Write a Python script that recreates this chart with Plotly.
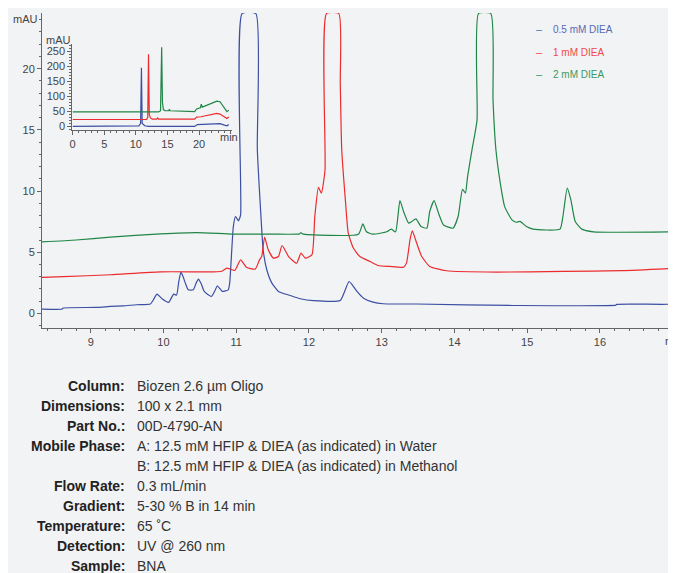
import plotly.graph_objects as go

# ---------------- data ----------------
series_names = ["0.5 mM DIEA", "1 mM DIEA", "2 mM DIEA"]

blue_t = [8.33, 8.61, 8.62, 9.08, 9.27, 9.45, 9.63, 9.82, 9.86, 9.91, 9.98, 10.07, 10.14, 10.18,
          10.21, 10.24, 10.27, 10.30, 10.34, 10.41, 10.45, 10.48, 10.52, 10.56, 10.66, 10.71, 10.74,
          10.78, 10.81, 10.89, 10.91, 10.96, 10.99, 11.03, 11.06, 11.08, 11.27, 11.29, 11.34, 11.37,
          11.42, 11.49, 11.58, 11.74, 11.88, 12.06, 12.43, 12.49, 12.55, 12.60, 12.66, 12.75, 12.88,
          13.02, 13.48, 14.81, 16.22, 16.23, 16.98, 17.0, 17.045]
blue_v = [0.36, 0.36, 0.44, 0.49, 0.57, 0.62, 0.71, 0.77, 1.1, 1.58, 1.2, 0.9, 1.58, 1.5,
          2.6, 3.38, 3.0, 2.48, 1.93, 1.93, 2.5, 2.8, 2.4, 1.8, 1.39, 1.9, 2.26,
          2.0, 1.8, 1.93, 2.48, 7.1, 7.92, 7.57, 8.06, 24.5, 24.5, 13.4, 7.92, 5.2,
          3.57, 2.48, 1.8, 1.47, 1.2, 1.04, 1.06, 1.8, 2.61, 2.3, 1.8, 1.25, 0.93,
          0.79, 0.77, 0.65, 0.68, 0.74, 0.76, 0.82, 0.82]

red_t = [8.33, 8.62, 9.27, 9.96, 10.69, 10.80, 10.87, 10.92, 10.98, 11.06, 11.14, 11.26, 11.32,
         11.35, 11.39, 11.44, 11.51, 11.58, 11.63, 11.72, 11.83, 11.89, 11.95, 12.04, 12.08, 12.13,
         12.17, 12.22, 12.24, 12.41, 12.43, 12.45, 12.50, 12.54, 12.61, 12.70, 12.84, 12.95, 13.11,
         13.30, 13.34, 13.39, 13.42, 13.48, 13.55, 13.66, 13.89, 14.58, 15.5, 16.3, 17.045]
red_v = [2.94, 3.0, 3.16, 3.4, 3.4, 3.45, 3.7, 3.62, 3.51, 4.38, 3.78, 3.62, 4.38,
         4.65, 6.24, 5.2, 4.52, 4.65, 5.55, 4.65, 4.11, 4.93, 4.52, 4.79, 7.92, 10.3,
         9.83, 11.7, 24.5, 24.5, 18.8, 13.4, 9.28, 6.56, 5.34, 4.65, 4.24, 3.92, 3.84,
         3.78, 4.11, 6.07, 6.75, 5.75, 4.65, 3.84, 3.49, 3.38, 3.43, 3.5, 3.7]

green_t = [8.33, 8.8, 9.27, 9.96, 10.46, 10.96, 11.5, 11.87, 11.89, 11.91, 12.68, 12.74, 12.79,
           12.88, 13.07, 13.13, 13.19, 13.25, 13.30, 13.37, 13.41, 13.47, 13.54, 13.62, 13.66,
           13.72, 13.78, 13.85, 13.98, 14.05, 14.11, 14.15, 14.18, 14.24, 14.31, 14.33, 14.50,
           14.53, 14.57, 14.63, 14.69, 14.79, 14.85, 14.9, 14.99, 15.08, 15.45, 15.49, 15.55,
           15.60, 15.66, 15.75, 15.91, 17.045]
green_v = [5.85, 6.0, 6.24, 6.5, 6.61, 6.48, 6.48, 6.5, 6.6, 6.5, 6.48, 7.32, 6.67,
           6.48, 6.67, 6.89, 6.67, 9.22, 8.33, 7.38, 7.5, 7.73, 7.10, 6.97, 8.33,
           9.22, 8.2, 7.23, 6.97, 7.92, 10.15, 9.83, 11.18, 13.35, 15.8, 24.5, 24.5,
           17.4, 13.35, 10.64, 8.73, 7.65, 7.45, 7.52, 7.1, 6.89, 6.89, 7.92, 10.24,
           9.28, 7.52, 6.89, 6.67, 6.67]

# inset (full run overview)
inset_blue_t = [0, 9.5, 10.5, 10.75, 10.88, 11.0, 11.4, 12, 19.3, 19.7, 20.5, 22.5, 23.3, 24.0, 24.4, 24.7]
inset_blue_v = [0, 0, 2, 10, 195, 10, 2, 0, 0, 6, 7, 10, 9, 4, 2, 6]
inset_red_t = [0, 11.7, 11.88, 12.0, 12.12, 12.3, 12.6, 13.3, 13.45, 13.6, 19.3, 19.6, 20.3, 21.5, 22.8, 23.3, 24.0, 24.4, 24.7]
inset_red_v = [23, 23, 30, 240, 40, 28, 24, 24, 28, 24, 24, 31, 32, 38, 43, 41, 30, 26, 31]
inset_green_t = [0, 13.6, 13.9, 14.08, 14.2, 14.35, 14.6, 15.2, 15.3, 15.4, 19.3, 19.6, 20.2, 20.35, 20.5,
                 21.5, 22.8, 23.3, 24.0, 24.4, 24.7]
inset_green_v = [48, 48, 52, 263, 80, 56, 52, 52, 57, 52, 49, 58, 62, 74, 64, 72, 84, 82, 58, 49, 54]

x_ticks = [9, 10, 11, 12, 13, 14, 15, 16]
y_ticks = [0, 5, 10, 15, 20]
inset_x_ticks = [0, 5, 10, 15, 20]
inset_y_ticks = [0, 50, 100, 150, 200, 250]

info_labels = ["Column:", "Dimensions:", "Part No.:", "Mobile Phase:", "", "Flow Rate:",
               "Gradient:", "Temperature:", "Detection:", "Sample:"]
info_values = ["Biozen 2.6 µm Oligo", "100 x 2.1 mm", "00D-4790-AN",
               "A: 12.5 mM HFIP &amp; DIEA (as indicated) in Water",
               "B: 12.5 mM HFIP &amp; DIEA (as indicated) in Methanol",
               "0.3 mL/min", "5-30 % B in 14 min", "65 ˚C", "UV @ 260 nm", "BNA"]

# ---------------- styling ----------------
# the page body adds an 8 px offset, so the figure is 8 px smaller and all
# positions below are given in reference-image pixels and converted.
OFF = 8
W, H = 676 - OFF, 573 - OFF
L, T, R, B = 42 - OFF, 13 - OFF, 0, 245
PW, PH = W - L - R, H - T - B
BG = "#f2f3f5"
line_colors = ["#3c4fa3", "#ec2b2e", "#1f8646"]
text_colors = ["#5869b6", "#f0484a", "#3b9a5d"]
SANS = "Liberation Sans, Arial, sans-serif"
TICKFONT = dict(family=SANS, size=11, color="#444444")
AXCOL = "#666666"


def px_x(px):
    return (px - OFF - L) / PW


def px_y(py):
    return (T + PH - (py - OFF)) / PH


fig = go.Figure()
for t, v, c, n in [(blue_t, blue_v, line_colors[0], series_names[0]),
                   (red_t, red_v, line_colors[1], series_names[1]),
                   (green_t, green_v, line_colors[2], series_names[2])]:
    fig.add_trace(go.Scatter(x=t, y=v, mode="lines", name=n,
                             line=dict(color=c, width=1.2, shape="spline", smoothing=0.5),
                             xaxis="x", yaxis="y", showlegend=False))
for t, v, c, n in [(inset_blue_t, inset_blue_v, line_colors[0], series_names[0]),
                   (inset_red_t, inset_red_v, line_colors[1], series_names[1]),
                   (inset_green_t, inset_green_v, line_colors[2], series_names[2])]:
    fig.add_trace(go.Scatter(x=t, y=v, mode="lines", name=n, line=dict(color=c, width=1.2),
                             xaxis="x2", yaxis="y2", showlegend=False))

axis_common = dict(showgrid=False, zeroline=False, showline=True, linecolor=AXCOL, linewidth=1,
                   ticks="outside", ticklen=4, tickcolor=AXCOL, tickwidth=1, tickfont=TICKFONT,
                   automargin=False)

fig.update_layout(
    template="none",
    width=W, height=H, margin=dict(l=L, r=R, t=T, b=B, pad=0, autoexpand=False),
    paper_bgcolor=BG, plot_bgcolor=BG, showlegend=False,
    xaxis=dict(range=[8.33, 17.045], tickvals=x_ticks, domain=[0, 1],
               minor=dict(dtick=0.2, ticklen=2, tickcolor=AXCOL, ticks="outside"),
               anchor="y", **axis_common),
    yaxis=dict(range=[-1.19, 24.55], tickvals=y_ticks, domain=[0, 1],
               minor=dict(dtick=1, ticklen=2, tickcolor=AXCOL, ticks="outside"),
               anchor="x", **axis_common),
    xaxis2=dict(range=[-0.05, 25.2], tickvals=inset_x_ticks, domain=[px_x(72.3), px_x(232)],
                minor=dict(dtick=1, ticklen=2, tickcolor=AXCOL, ticks="outside"),
                anchor="y2", **axis_common),
    yaxis2=dict(range=[-12, 274], tickvals=inset_y_ticks, domain=[px_y(130), px_y(44)],
                minor=dict(dtick=10, ticklen=2, tickcolor=AXCOL, ticks="outside"),
                anchor="x2", **axis_common),
)

ann = []
# axis unit labels
ann.append(dict(text="mAU", x=px_x(25), y=px_y(19), xref="paper", yref="paper", showarrow=False,
                font=TICKFONT, xanchor="center", yanchor="middle"))
ann.append(dict(text="mAU", x=px_x(58), y=px_y(40), xref="paper", yref="paper", showarrow=False,
                font=TICKFONT, xanchor="center", yanchor="middle"))
ann.append(dict(text="min", x=px_x(663), y=px_y(341), xref="paper", yref="paper", showarrow=False,
                font=TICKFONT, xanchor="left", yanchor="middle"))
ann.append(dict(text="min", x=px_x(218), y=px_y(137), xref="paper", yref="paper", showarrow=False,
                font=TICKFONT, xanchor="left", yanchor="middle"))
# legend
for i, (name, col) in enumerate(zip(series_names, text_colors)):
    yy = px_y([29, 52, 74][i])
    ann.append(dict(text="–", x=px_x(539.5), y=yy, xref="paper", yref="paper", showarrow=False,
                    font=dict(family=SANS, size=11, color=col),
                    xanchor="center", yanchor="middle"))
    ann.append(dict(text=name, x=px_x(551), y=yy, xref="paper", yref="paper", showarrow=False,
                    font=dict(family=SANS, size=10, color=col),
                    xanchor="left", yanchor="middle"))
# side code text (cut off at the edge)
ann.append(dict(text="APP ID 25088", x=px_x(679), y=px_y(158.5), xref="paper", yref="paper",
                showarrow=False, textangle=-90,
                font=dict(family=SANS, size=15, color="#333333"),
                xanchor="center", yanchor="middle"))
# info block
INFOFONT = "Liberation Sans Narrow, Arial Narrow, Liberation Sans, Arial, sans-serif"
row_y = [385.7, 405.5, 425.5, 445.7, 465.7, 485.5, 505.5, 525.5, 545.5, 565.5]
for lab, val, py in zip(info_labels, info_values, row_y):
    if lab:
        ann.append(dict(text="<b>" + lab + "</b>", x=px_x(127), y=px_y(py), xref="paper", yref="paper",
                        showarrow=False, xanchor="right", yanchor="middle",
                        font=dict(family=INFOFONT, size=14, color="#222222")))
    ann.append(dict(text=val, x=px_x(134.5), y=px_y(py), xref="paper", yref="paper",
                    showarrow=False, xanchor="left", yanchor="middle",
                    font=dict(family=INFOFONT, size=14, color="#333333")))
fig.update_layout(annotations=ann)

fig.write_html("out.html")
